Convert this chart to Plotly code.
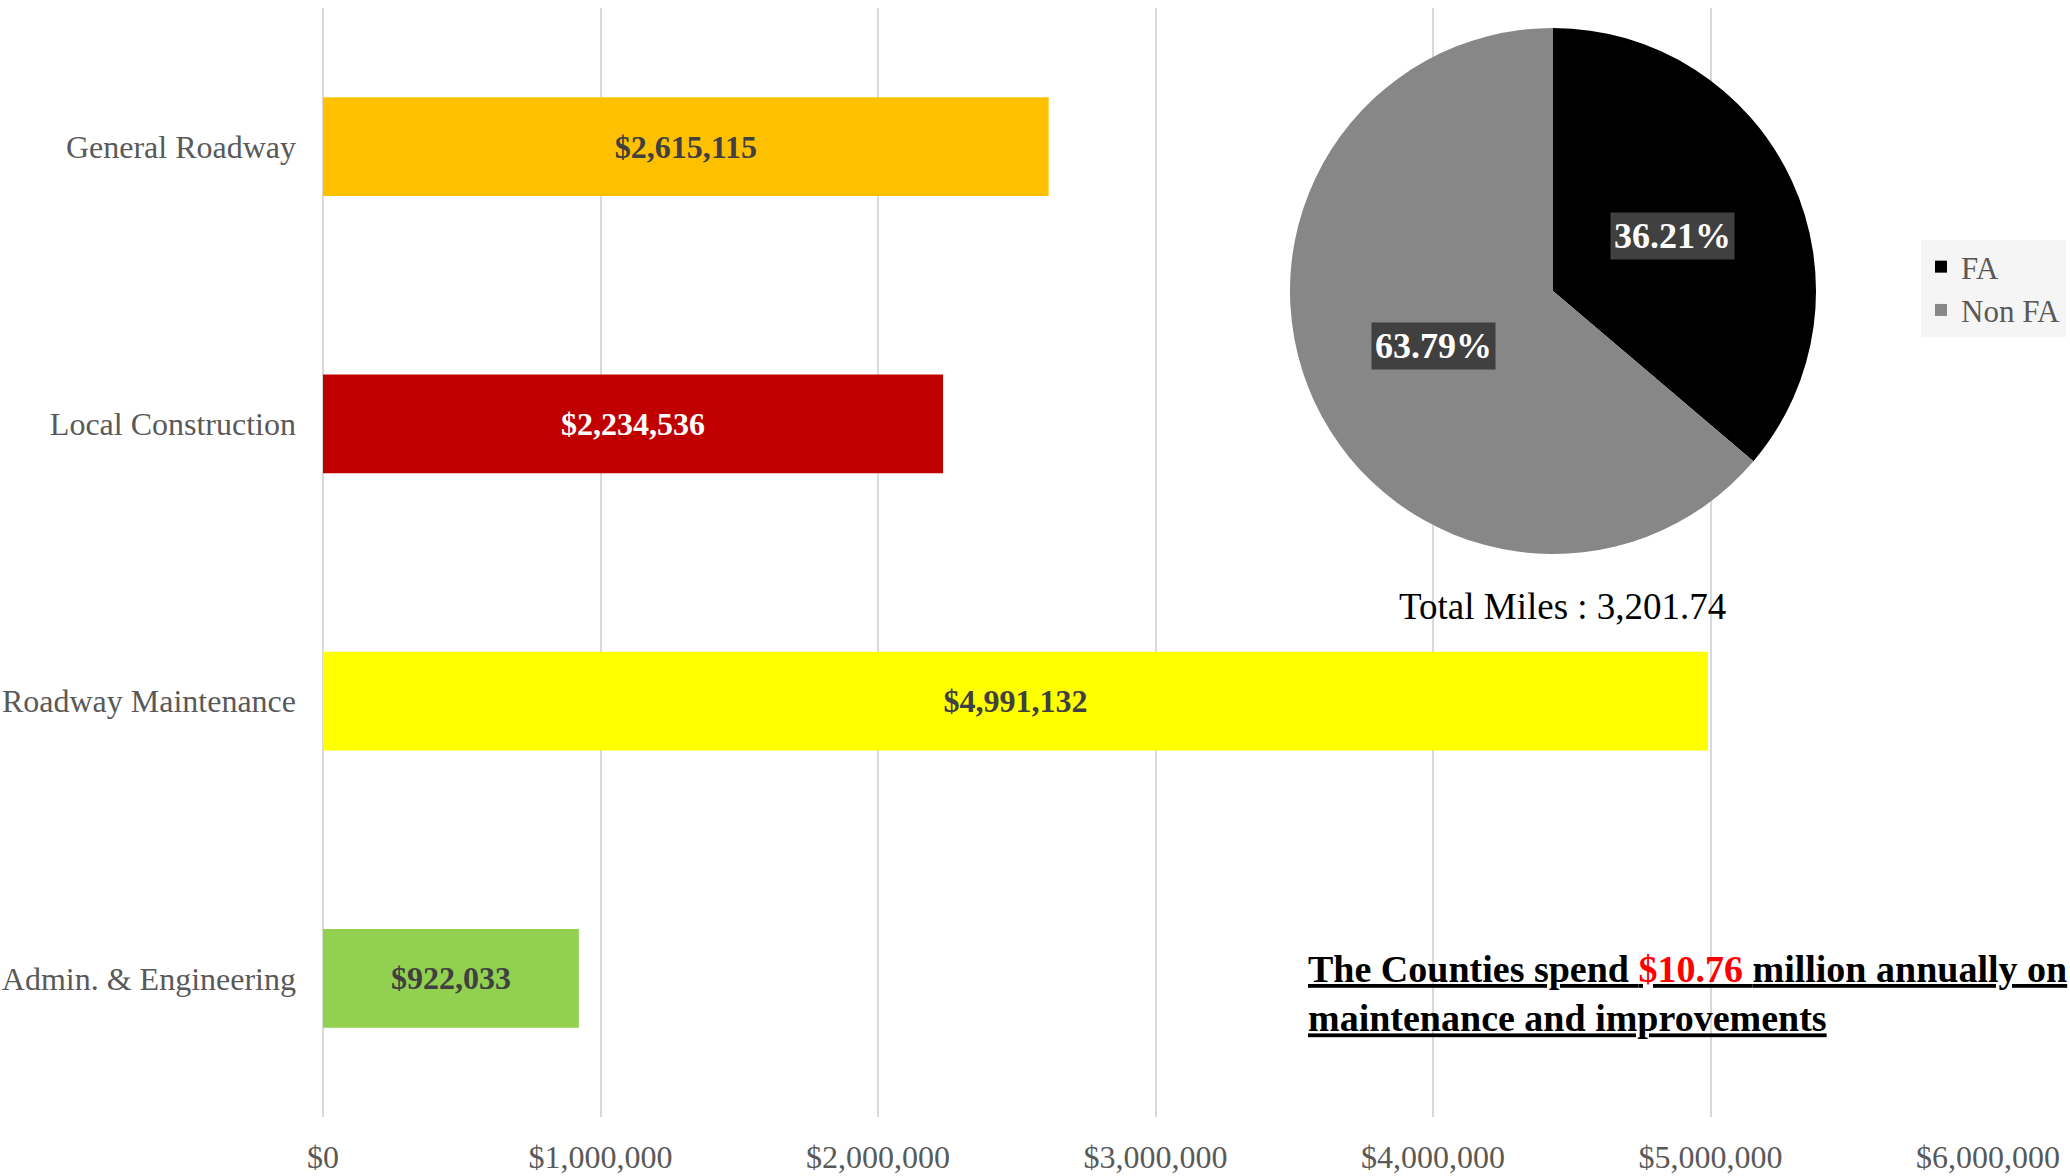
import numpy as np
import plotly.graph_objects as go

# ---------------- data ----------------
categories = ["General Roadway", "Local Construction", "Roadway Maintenance", "Admin. & Engineering"]
costs = [2615115, 2234536, 4991132, 922033]
bar_colors = ["#FFC000", "#C00000", "#FFFF00", "#92D050"]
bar_label_colors = ["#404040", "#FFFFFF", "#404040", "#404040"]

pie_labels = ["FA", "Non FA"]
pie_shares = [36.21, 63.79]
pie_colors = ["#000000", "#878787"]

x_ticks = [0, 1000000, 2000000, 3000000, 4000000, 5000000, 6000000]
x_tick_labels = ["$0", "$1,000,000", "$2,000,000", "$3,000,000", "$4,000,000", "$5,000,000", "$6,000,000"]
total_miles_text = "Total Miles : 3,201.74"
annual_total_text = "$10.76"

# ---------------- layout geometry ----------------
W, H = 2070, 1176
L, R, T, B = 323, 82, 8, 59
pw, ph = W - L - R, H - T - B
plot_bottom = H - B

def px_to_paper(x, y):
    return (x - L) / pw, (plot_bottom - y) / ph

SERIF = "Liberation Serif, Times New Roman, serif"

fig = go.Figure()

fig.add_trace(go.Bar(
    y=categories, x=costs, orientation="h",
    marker=dict(color=bar_colors, line_width=0),
    texttemplate="%{x:$,.0f}", textposition="inside", insidetextanchor="middle",
    textangle=0, constraintext="none",
    textfont=dict(family=SERIF, size=32, color=bar_label_colors, weight="bold"),
    showlegend=False, hoverinfo="skip",
))

# pie placement (pixels)
pcx, pcy, pr = 1553, 291, 263
x0, y1 = px_to_paper(pcx - pr, pcy - pr)
x1, y0 = px_to_paper(pcx + pr, pcy + pr)

fig.add_trace(go.Pie(
    labels=pie_labels, values=pie_shares,
    marker=dict(colors=pie_colors, line=dict(width=0)),
    sort=False, direction="clockwise", rotation=0,
    textinfo="none", hoverinfo="label+percent",
    domain=dict(x=[x0, x1], y=[y0, y1]),
))

# pie data labels in boxes, positioned at half radius of each slice's mid-angle
fr = np.array(pie_shares) / np.sum(pie_shares)
cum = np.cumsum(fr) - fr / 2
for share, c in zip(pie_shares, cum):
    th = 2 * np.pi * c
    lx = pcx + 0.5 * pr * np.sin(th)
    ly = pcy - 0.5 * pr * np.cos(th)
    ax_, ay_ = px_to_paper(lx, ly)
    fig.add_annotation(
        x=ax_, y=ay_, xref="paper", yref="paper", showarrow=False,
        xanchor="center", yanchor="middle",
        text=f"<b>{share:.2f}%</b>",
        font=dict(family=SERIF, size=36, color="#FFFFFF"),
        bgcolor="#404040", borderpad=3,
    )

tx, ty = px_to_paper(1562, 606)
fig.add_annotation(
    x=tx, y=ty, xref="paper", yref="paper", showarrow=False,
    xanchor="center", yanchor="middle",
    text=total_miles_text, font=dict(family=SERIF, size=37, color="#000000"),
)

nx, ny = px_to_paper(1306, 993)
fig.add_annotation(
    x=nx, y=ny, xref="paper", yref="paper", showarrow=False,
    xanchor="left", yanchor="middle", align="left",
    text=("<b><u>The Counties spend <span style='color:#FF0000'>" + annual_total_text +
          " </span>million annually on</u><br><u>maintenance and improvements</u></b>"),
    font=dict(family=SERIF, size=38, color="#000000"),
)

lgx, lgy = px_to_paper(1921, 240)
fig.update_layout(
    width=W, height=H,
    margin=dict(l=L, r=R, t=T, b=B, autoexpand=False),
    paper_bgcolor="#FFFFFF", plot_bgcolor="#FFFFFF",
    bargap=0.643,
    showlegend=True,
    legend=dict(
        x=lgx, y=lgy, xanchor="left", yanchor="top",
        bgcolor="rgba(242,242,242,0.75)",
        font=dict(family=SERIF, size=31, color="#595959"),
    ),
    xaxis=dict(
        range=[0, 6000000], tickvals=x_ticks, ticktext=x_tick_labels,
        showgrid=True, gridcolor="#D9D9D9", gridwidth=1.5,
        zeroline=True, zerolinecolor="#D9D9D9", zerolinewidth=1.5,
        showline=False, ticks="", ticklabelstandoff=18,
        tickfont=dict(family=SERIF, size=32, color="#595959"),
        fixedrange=True,
    ),
    yaxis=dict(
        categoryorder="array", categoryarray=categories, autorange="reversed",
        showgrid=False, zeroline=False, showline=False, ticks="",
        ticklabelstandoff=26,
        tickfont=dict(family=SERIF, size=32, color="#595959"),
        fixedrange=True,
    ),
)

fig.write_html(
    "out.html",
    config={"displayModeBar": False},
    post_script="document.body.style.margin='0';document.body.style.overflow='hidden';",
)
